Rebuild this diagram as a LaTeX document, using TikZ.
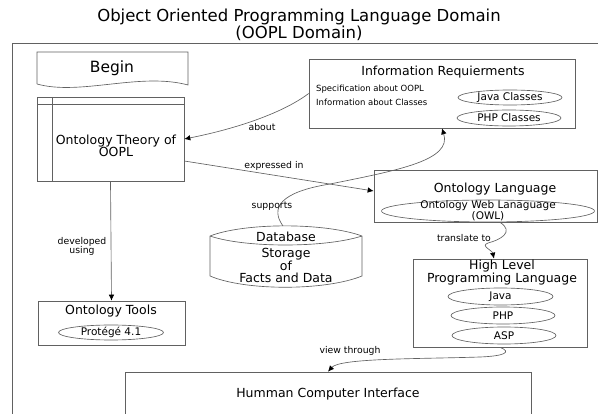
\documentclass[tikz,border=0pt]{standalone}
\usepackage{fontspec}
\setmainfont{DejaVu Sans}
\usetikzlibrary{arrows.meta,shapes.geometric,fit,calc}
\begin{document}
\begin{tikzpicture}[x=1pt,y=-1pt,
  line/.style={draw=black!62, line width=0.65pt},
  frame/.style={line, rectangle, inner sep=0pt},
  oval/.style={line, ellipse, inner sep=0pt, font=\fontsize{10.5}{10}\selectfont},
  lbl/.style={inner sep=0pt, align=center, font=\fontsize{9.3}{9.5}\selectfont},
  desc/.style={inner sep=0pt, anchor=west, font=\fontsize{8.5}{10}\selectfont},
  head/.style={inner sep=0pt, align=center, font=\fontsize{12.5}{12}\selectfont},
  conn/.style={line, -{Latex[length=6pt,width=5.5pt,black]}},
]
\useasboundingbox (0,0) rectangle (598,414);
\clip (0,0) rectangle (598,414);

% title
\node[inner sep=0pt, align=center, font=\fontsize{16.5}{16.5}\selectfont] (title) at (299,25)
  {Object Oriented Programming Language Domain\\(OOPL Domain)};

% domain frame
\node[frame, fit={(12,43) (640,460)}] (domain) {};

% Begin (document shape)
\draw[line] (37,84) -- (37,52) -- (188,52) -- (188,85)
  .. controls (140,72) and (80,96) .. (37,84);
\node[inner sep=0pt, font=\fontsize{15.5}{16}\selectfont] (begin) at (112,68) {Begin};

% Ontology theory
\node[frame, fit={(37,97) (184,181)}] (theory) {};
\draw[line] (37,104) -- (184,104) (52,97) -- (52,181);
\node[head] (theorytxt) at (116,145.5) {Ontology Theory of\\OOPL};

% Information requirements
\node[frame, fit={(309,59) (575,128)}] (info) {};
\node[head] (infotitle) at (443,72) {Information Requierments};
\node[desc] (spec) at (316,89) {Specification about OOPL};
\node[desc] (infcls) at (316,102) {Information about Classes};
\node[oval, minimum width=104pt, minimum height=15pt] (javacls) at (510,97.5) {Java Classes};
\node[oval, minimum width=104pt, minimum height=16pt] (phpcls) at (509,118) {PHP Classes};

% Ontology language
\node[frame, fit={(374,170) (597,222)}] (lang) {};
\node[head] (langtitle) at (495,189) {Ontology Language};
\node[oval, minimum width=213pt, minimum height=22pt] (owl) at (488,211) {};
\node[inner sep=0pt, align=center, font=\fontsize{10.5}{9.5}\selectfont] (owltxt) at (owl) {Ontology Web Lanaguage\\(OWL)};

% Database
\draw[line] (210,236) .. controls (245,222.5) and (325,222.5) .. (362,236)
  (210,236) .. controls (245,248) and (325,248) .. (362,236)
  (210,236) -- (210,276) .. controls (245,291) and (325,291) .. (362,276) -- (362,236);
\node[head] (db) at (286,237) {Database};
\node[head] (store) at (286,265) {Storage\\of\\Facts and Data};
\coordinate (dbtop) at (283,226);

% High level programming language
\node[frame, fit={(413,259) (587,347)}] (hl) {};
\node[head] (hltitle) at (502,273) {High Level\\Programming Language};
\node[oval, minimum width=105pt, minimum height=17pt] (java) at (500.5,296.5) {Java};
\node[oval, minimum width=104pt, minimum height=17pt] (php) at (503,315.5) {PHP};
\node[oval, minimum width=104pt, minimum height=17pt] (asp) at (504,335.5) {ASP};

% Ontology tools
\node[frame, fit={(38,301) (185,345)}] (tools) {};
\node[head] (toolstitle) at (111,311) {Ontology Tools};
\node[oval, minimum width=105pt, minimum height=15pt] (protege) at (111,332.5) {Protégé 4.1};

% HCI
\node[frame, fit={(125,372) (531,450)}] (hci) {};
\node[head] (hcitxt) at (328,394) {Humman Computer Interface};

% connectors
\draw[conn] (info.west) .. controls (280,115) and (230,130) .. (theory.east);
\node[lbl] (about) at (262,127) {about};

\draw[conn] ($(theory.east)+(0,22)$) -- ($(lang.west)+(0,-5)$);
\node[lbl] (expr) at (274,166) {expressed in};

\draw[conn] (dbtop) .. controls (270,208) and (280,192) .. (330,184)
  .. controls (400,170) and (452,160) .. (info.south);
\node[lbl] (supp) at (272,206) {supports};

\draw[conn] (theory.south) -- (tools.north);
\node[lbl] (dev) at (82,246.5) {developed\\using};

\draw[conn] ($(lang.south)+(14.5,0)$) .. controls (515,232) and (500,240) .. (488,243)
  .. controls (480,246) and (492,250) .. ($(hl.north)+(-6,0)$);
\node[lbl] (trans) at (464,238) {translate to};

\draw[conn] (hl.south) .. controls (512,352) and (505,356) .. (480,357)
  .. controls (420,359) and (340,358) .. (hci.north);
\node[lbl] (view) at (350,351) {view through};
\end{tikzpicture}
\end{document}
